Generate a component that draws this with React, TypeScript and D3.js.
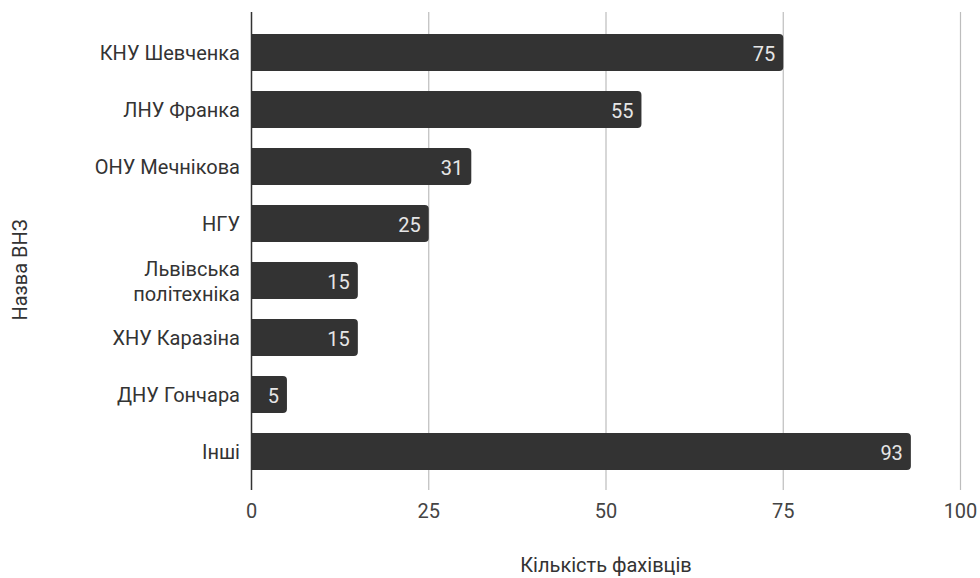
import React from "react";
import * as d3 from "d3";

const categories: string[][] = [
  ["КНУ Шевченка"],
  ["ЛНУ Франка"],
  ["ОНУ Мечнікова"],
  ["НГУ"],
  ["Львівська", "політехніка"],
  ["ХНУ Каразіна"],
  ["ДНУ Гончара"],
  ["Інші"],
];
const values: number[] = [75, 55, 31, 25, 15, 15, 5, 93];
const xTicks: number[] = [0, 25, 50, 75, 100];
const xTitle = "Кількість фахівців";
const yTitle = "Назва ВНЗ";

const W = 980;
const H = 578;
const left = 251.5;
const right = 960.5;
const top = 24;
const bottom = 480;
const gridTop = 12;
const gridBottom = 490;
const FS = 20;

function barPath(x0: number, x1: number, y0: number, h: number, r: number) {
  const rr = Math.min(r, (x1 - x0) / 2, h / 2);
  return `M${x0},${y0}H${x1 - rr}Q${x1},${y0} ${x1},${y0 + rr}V${y0 + h - rr}Q${x1},${y0 + h} ${x1 - rr},${y0 + h}H${x0}Z`;
}

export default function App() {
  const x = d3.scaleLinear().domain([0, 100]).range([left, right]);
  const y = d3
    .scaleBand<number>()
    .domain(d3.range(categories.length))
    .range([top, bottom])
    .paddingInner(0.35)
    .paddingOuter(0.175);
  const bw = y.bandwidth();
  const font = "Roboto, 'Noto Sans', sans-serif";
  return (
    <svg
      width={W}
      height={H}
      style={{ position: "absolute", left: 0, top: 0, background: "#fff" }}
      fontFamily={font}
    >
      {xTicks.map((t) => (
        <g key={t}>
          {t !== 0 && (
            <line
              x1={x(t)}
              x2={x(t)}
              y1={gridTop}
              y2={gridBottom}
              stroke="#bdbdbd"
              strokeWidth={1.2}
            />
          )}
          <text
            x={x(t)}
            y={518}
            textAnchor="middle"
            fontSize={FS}
            fill="#444"
          >
            {t}
          </text>
        </g>
      ))}
      {values.map((v, i) => {
        const y0 = y(i)!;
        const cy = y0 + bw / 2;
        const n = categories[i].length;
        return (
          <g key={i}>
            <path d={barPath(x(0), x(v), y0, bw, 4)} fill="#333333" />
            <text
              x={x(v) - 8}
              y={cy + 8}
              textAnchor="end"
              fontSize={FS}
              fill="#e6e6e6"
            >
              {v}
            </text>
            <text
              x={240}
              y={cy + 7.5 - (n - 1) * 12.5}
              textAnchor="end"
              fontSize={FS}
              fill="#333"
            >
              {categories[i].map((l, j) => (
                <tspan key={j} x={240} dy={j === 0 ? 0 : 25}>
                  {l}
                </tspan>
              ))}
            </text>
          </g>
        );
      })}
      <line
        x1={x(0)}
        x2={x(0)}
        y1={gridTop}
        y2={gridBottom}
        stroke="#333"
        strokeWidth={1.5}
      />
      <text
        x={(left + right) / 2}
        y={572}
        textAnchor="middle"
        fontSize={FS}
        fill="#333"
      >
        {xTitle}
      </text>
      <text
        transform={`translate(27,270) rotate(-90)`}
        textAnchor="middle"
        fontSize={FS}
        fill="#333"
      >
        {yTitle}
      </text>
    </svg>
  );
}
